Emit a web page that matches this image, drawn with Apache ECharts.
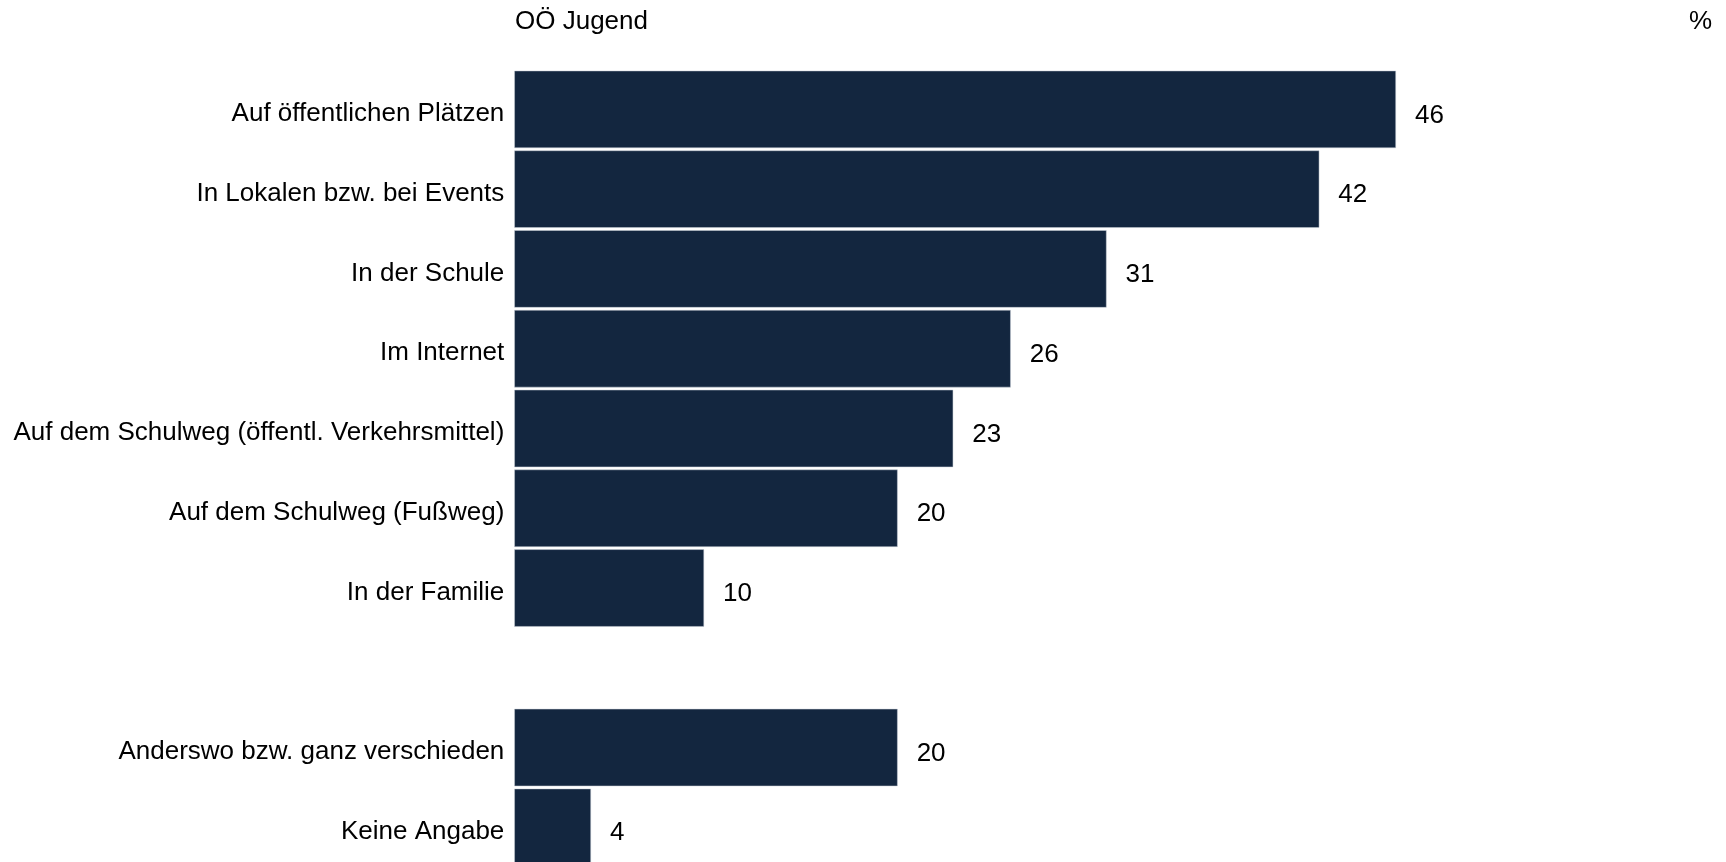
<!DOCTYPE html>
<html>
<head>
<meta charset="utf-8">
<script src="https://cdn.jsdelivr.net/npm/echarts@6/dist/echarts.min.js"></script>
<style>
html,body{margin:0;padding:0;background:#fff;}
#chart{width:1726px;height:862px;}
</style>
</head>
<body>
<div id="chart"></div>
<script>
const categories = [
  "Auf öffentlichen Plätzen",
  "In Lokalen bzw. bei Events",
  "In der Schule",
  "Im Internet",
  "Auf dem Schulweg (öffentl. Verkehrsmittel)",
  "Auf dem Schulweg (Fußweg)",
  "In der Familie",
  "",
  "Anderswo bzw. ganz verschieden",
  "Keine Angabe"
];
const values = [46, 42, 30.9, 25.9, 22.9, 20, 9.9, null, 20, 4];
const seriesName = "OÖ Jugend";
const unitLabel = "%";

const chart = echarts.init(document.getElementById('chart'), null, {renderer: 'canvas'});
const font = '"Liberation Sans", Arial, sans-serif';
chart.setOption({
  animation: false,
  backgroundColor: '#ffffff',
  graphic: [
    {type: 'text', x: 515, y: 22, style: {text: seriesName, font: '26px ' + font, fill: '#000', textVerticalAlign: 'middle'}},
    {type: 'text', x: 1712, y: 22, style: {text: unitLabel, font: '26px ' + font, fill: '#000', textAlign: 'right', textVerticalAlign: 'middle'}}
  ],
  grid: {left: 514.3, width: 1150, top: 69.5, height: 797.7, containLabel: false, outerBoundsMode: 'none'},
  xAxis: {type: 'value', min: 0, max: 60, show: false},
  yAxis: {
    type: 'category', data: categories, inverse: true,
    axisLine: {show: false}, axisTick: {show: false}, splitLine: {show: false},
    axisLabel: {margin: 10, fontSize: 26, fontFamily: font, color: '#000', verticalAlign: 'top', lineHeight: 9}
  },
  series: [{
    type: 'bar', data: values, barCategoryGap: '3%',
    itemStyle: {color: '#13263f', borderColor: '#c9ced6', borderWidth: 0.5},
    label: {
      show: true, position: 'right', distance: 19, offset: [0, 6],
      fontSize: 26, fontFamily: font, color: '#000',
      formatter: p => p.value == null ? '' : Math.round(p.value)
    }
  }]
});
</script>
</body>
</html>
